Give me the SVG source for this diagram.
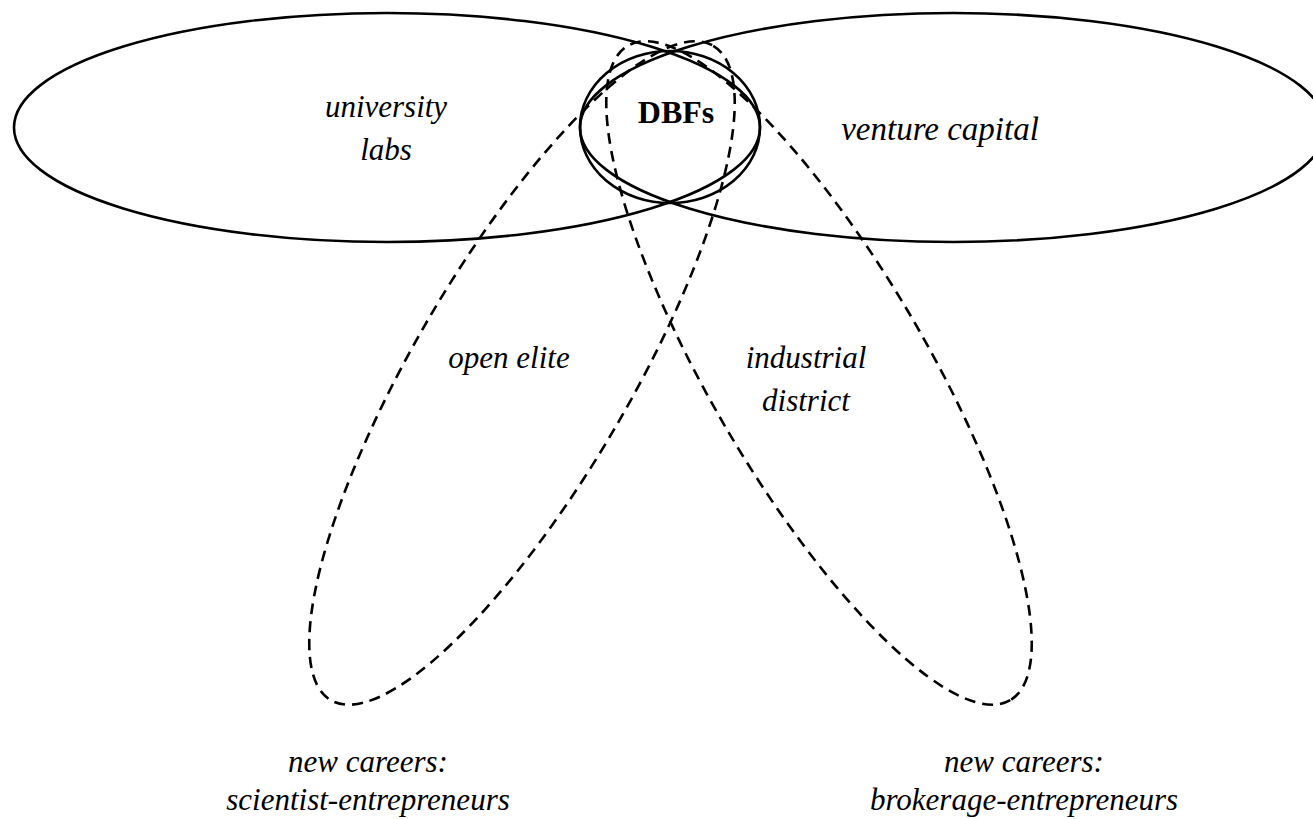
<svg xmlns="http://www.w3.org/2000/svg" width="1313" height="819" viewBox="0 0 1313 819">
  <style>
    .solid { fill: none; stroke: #000; stroke-width: 2.6; }
    .dashed { fill: none; stroke: #000; stroke-width: 2.6; stroke-dasharray: 11 7; }
    .lbl { font-family: "Liberation Serif", "DejaVu Serif", serif; font-style: italic; font-size: 31px; fill: #000; text-anchor: middle; }
    .bold { font-family: "Liberation Serif", "DejaVu Serif", serif; font-weight: bold; font-size: 32px; fill: #000; text-anchor: middle; }
  </style>
  <rect width="1313" height="819" fill="#fff"/>

  <!-- career paths (tilted dashed ovals) -->
  <g id="scientist-entrepreneurs">
    <ellipse class="dashed" cx="522" cy="373" rx="379" ry="108" transform="rotate(-59.7 522 373)"/>
    <text class="lbl" x="368" y="772">new careers:</text>
    <text class="lbl" x="368" y="810">scientist-entrepreneurs</text>
  </g>
  <g id="brokerage-entrepreneurs">
    <ellipse class="dashed" cx="819" cy="373" rx="379" ry="108" transform="rotate(59.7 819 373)"/>
    <text class="lbl" x="1024" y="772">new careers:</text>
    <text class="lbl" x="1024" y="810">brokerage-entrepreneurs</text>
  </g>

  <!-- institutional fields -->
  <g id="university-labs">
    <ellipse class="solid" cx="387" cy="127.5" rx="373" ry="114.5"/>
    <text class="lbl" x="386" y="117">university</text>
    <text class="lbl" x="386" y="160">labs</text>
  </g>
  <g id="venture-capital">
    <ellipse class="solid" cx="953" cy="127.5" rx="373" ry="114.5"/>
    <text class="lbl" x="940" y="140" style="font-size:33px">venture capital</text>
  </g>
  <g id="dbfs">
    <ellipse class="solid" cx="670" cy="127" rx="90" ry="76"/>
    <text class="bold" x="676" y="123">DBFs</text>
  </g>

  <!-- overlap labels -->
  <g id="open-elite">
    <text class="lbl" x="509" y="368">open elite</text>
  </g>
  <g id="industrial-district">
    <text class="lbl" x="806" y="368">industrial</text>
    <text class="lbl" x="806" y="411">district</text>
  </g>
</svg>
